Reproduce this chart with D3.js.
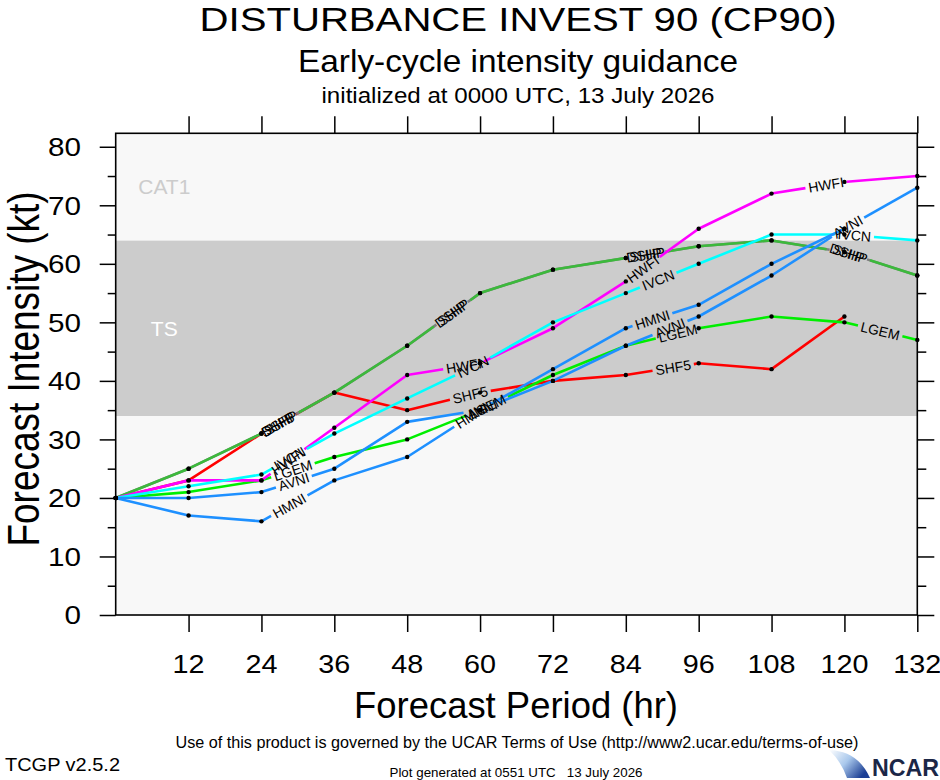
<!DOCTYPE html>
<html>
<head>
<meta charset="utf-8">
<script src="https://cdn.jsdelivr.net/npm/d3@7"></script>
<style>
  body { margin: 0; background: #fff; }
  svg { display: block; }
  text { font-family: "Liberation Sans", Arial, Helvetica, sans-serif; }
</style>
</head>
<body>
<svg id="chart" width="940" height="780"></svg>
<script>
//BEGIN: DATA
const hours = [0, 12, 24, 36, 48, 60, 72, 84, 96, 108, 120, 132]
const SHF5 = [20, 23, 31, 38, 35, 38, 40, 41, 43, 42, 51]
const SHIP = [20, 25, 31, 38, 46, 55, 59, 61, 63, 64, 62, 58]
const DSHP = [20, 25, 31, 38, 46, 55, 59, 61, 63, 64, 62, 58]
const LGEM = [20, 21, 23, 27, 30, 35, 41, 46, 49, 51, 50, 47]
const HWFI = [20, 23, 23, 32, 41, 43, 49, 57, 66, 72, 74, 75]
const IVCN = [20, 22, 24, 31, 37, 43, 50, 55, 60, 65, 65, 64]
const AVNI = [20, 20, 21, 25, 33, 35, 40, 46, 51, 58, 66, 73]
const HMNI = [20, 17, 16, 23, 27, 35, 42, 49, 53, 60, 66]

const modelNames = ["SHF5", "SHIP", "DSHP", "LGEM", "HWFI", "IVCN", "AVNI", "HMNI"]
const modelValues = [SHF5, SHIP, DSHP, LGEM, HWFI, IVCN, AVNI, HMNI]
const modelColors = ["#ff0000", "#7f7f7f", "#3cb93c", "#00ee00", "#ff00ff", "#00ffff", "#1e90ff", "#1e90ff"]

const xTicks = [12, 24, 36, 48, 60, 72, 84, 96, 108, 120, 132]
const yTicks = [0, 10, 20, 30, 40, 50, 60, 70, 80]
const yMinorTicks = [5, 15, 25, 35, 45, 55, 65, 75]

const bandNames = ["TS", "CAT1"]
const bandLow = [34, 64]
const bandHigh = [64, 82.3]
const bandFill = ["#cccccc", "#f8f8f8"]
const bandTextColor = ["#ffffff", "#cccccc"]
//END: DATA

const svg = d3.select("#chart")
const plotLeft = 115.7, plotRight = 917.3, plotTop = 133.3, plotBottom = 615

const x = d3.scaleLinear().domain([0, 132]).range([plotLeft, plotRight])
const y = d3.scaleLinear().domain([0, 82.3]).range([plotBottom, plotTop])

// stretch a text to the width it has in the picture
const fit = (sel, w) => sel.attr("textLength", w).attr("lengthAdjust", "spacingAndGlyphs")

svg.append("rect").attr("width", 940).attr("height", 780).attr("fill", "#fff")

//BEGIN: TITLES
fit(svg.append("text").attr("x", 518).attr("y", 31).attr("text-anchor", "middle")
  .attr("font-size", 34).text("DISTURBANCE INVEST 90 (CP90)"), 637)
fit(svg.append("text").attr("x", 518).attr("y", 72).attr("text-anchor", "middle")
  .attr("font-size", 32).text("Early-cycle intensity guidance"), 440)
fit(svg.append("text").attr("x", 518).attr("y", 103).attr("text-anchor", "middle")
  .attr("font-size", 22).text("initialized at 0000 UTC, 13 July 2026"), 393)
//END: TITLES

//BEGIN: PLOT BACKGROUND
svg.append("rect").attr("x", plotLeft).attr("y", plotTop)
  .attr("width", plotRight - plotLeft).attr("height", plotBottom - plotTop)
  .attr("fill", "#f8f8f8")

bandNames.forEach((name, i) => {
  svg.append("rect")
    .attr("x", x(0)).attr("width", x(132) - x(0))
    .attr("y", y(bandHigh[i])).attr("height", y(bandLow[i]) - y(bandHigh[i]))
    .attr("fill", bandFill[i])
  svg.append("text")
    .attr("x", x(8)).attr("y", y((bandLow[i] + bandHigh[i]) / 2))
    .attr("dy", "0.36em").attr("text-anchor", "middle")
    .attr("font-size", 21).attr("fill", bandTextColor[i]).text(name)
})
//END: PLOT BACKGROUND

//BEGIN: AXES
const styleAxis = g => {
  g.select(".domain").remove()
  g.selectAll(".tick line").attr("stroke", "#000").attr("stroke-width", 1.5)
}

svg.append("g").attr("transform", `translate(${plotLeft},0)`)
  .call(d3.axisLeft(y).tickValues(yTicks).tickSize(16).tickFormat(""))
  .call(styleAxis)
svg.append("g").attr("transform", `translate(${plotLeft},0)`)
  .call(d3.axisLeft(y).tickValues(yMinorTicks).tickSize(8).tickFormat(""))
  .call(styleAxis)
svg.append("g").attr("transform", `translate(${plotRight},0)`)
  .call(d3.axisRight(y).tickValues(yTicks).tickSize(17).tickFormat(""))
  .call(styleAxis)
svg.append("g").attr("transform", `translate(${plotRight},0)`)
  .call(d3.axisRight(y).tickValues(yMinorTicks).tickSize(9).tickFormat(""))
  .call(styleAxis)
svg.append("g").attr("transform", `translate(0,${plotTop})`)
  .call(d3.axisTop(x).tickValues(xTicks).tickSize(17).tickFormat(""))
  .call(styleAxis)
svg.append("g").attr("transform", `translate(0,${plotBottom})`)
  .call(d3.axisBottom(x).tickValues(xTicks).tickSize(17).tickFormat(""))
  .call(styleAxis)

// tick labels
svg.append("g").selectAll("text").data(yTicks).join("text")
  .attr("x", 81).attr("y", d => y(d)).attr("dy", "0.36em")
  .attr("text-anchor", "end").attr("font-size", 26)
  .text(d => d)
  .each(function (d) { fit(d3.select(this), String(d).length * 16.5) })

svg.append("g").selectAll("text").data(xTicks).join("text")
  .attr("x", d => x(d)).attr("y", 673)
  .attr("text-anchor", "middle").attr("font-size", 26)
  .text(d => d)
  .each(function (d) { fit(d3.select(this), String(d).length * 16) })

fit(svg.append("text").attr("x", 516).attr("y", 718).attr("text-anchor", "middle")
  .attr("font-size", 37).text("Forecast Period (hr)"), 324)
fit(svg.append("text").attr("transform", "translate(38.5,369) rotate(-90)")
  .attr("text-anchor", "middle").attr("font-size", 44).text("Forecast Intensity (kt)"), 355)
//END: AXES

//BEGIN: MODEL LINES
const firstLabel = 180
const labelSpacing = 205
const labelPad = 3

const drawModel = (name, vals, color) => {
  let pts = vals.map((v, i) => [x(hours[i]), y(v)])
  let cum = [0]
  for (let i = 1; i < pts.length; i++) {
    cum.push(cum[i - 1] + Math.hypot(pts[i][0] - pts[i - 1][0], pts[i][1] - pts[i - 1][1]))
  }
  let total = cum[cum.length - 1]

  const segAt = s => {
    let i = 0
    while (i < pts.length - 2 && cum[i + 1] < s) i++
    return i
  }
  const pointAt = s => {
    let i = segAt(s)
    let f = (s - cum[i]) / (cum[i + 1] - cum[i])
    return [pts[i][0] + f * (pts[i + 1][0] - pts[i][0]), pts[i][1] + f * (pts[i + 1][1] - pts[i][1])]
  }

  // measure label width
  let probe = svg.append("text").attr("font-size", 14).text(name)
  let w = probe.node().getComputedTextLength()
  probe.remove()

  let labels = []
  for (let s = firstLabel; s + w / 2 < total; s += labelSpacing) labels.push(s)

  // visible pieces of the line between label gaps
  let pieces = []
  let prev = 0
  labels.forEach(s => {
    pieces.push([prev, s - w / 2 - labelPad])
    prev = s + w / 2 + labelPad
  })
  pieces.push([prev, total])

  let line = d3.line()
  let g = svg.append("g")
  pieces.forEach(([u, v]) => {
    if (v <= u) return
    let p = [pointAt(u)]
    cum.forEach((c, i) => { if (c > u && c < v) p.push(pts[i]) })
    p.push(pointAt(v))
    g.append("path").attr("d", line(p)).attr("fill", "none")
      .attr("stroke", color).attr("stroke-width", 2.6).attr("stroke-linejoin", "round")
  })

  return { pts, labels, pointAt, segAt, w }
}

let drawn = modelNames.map((name, i) => drawModel(name, modelValues[i], modelColors[i]))

// markers
drawn.forEach(d => {
  svg.append("g").selectAll("circle").data(d.pts).join("circle")
    .attr("cx", p => p[0]).attr("cy", p => p[1]).attr("r", 2.2).attr("fill", "#000")
})

// line labels
drawn.forEach((d, k) => {
  d.labels.forEach(s => {
    let [cx, cy] = d.pointAt(s)
    let i = d.segAt(s)
    let ang = Math.atan2(d.pts[i + 1][1] - d.pts[i][1], d.pts[i + 1][0] - d.pts[i][0]) * 180 / Math.PI
    svg.append("text")
      .attr("transform", `translate(${cx},${cy}) rotate(${ang})`)
      .attr("text-anchor", "middle").attr("dy", "0.36em")
      .attr("font-size", 14).attr("fill", "#000")
      .text(modelNames[k])
  })
})
//END: MODEL LINES

// frame
svg.append("rect").attr("x", plotLeft).attr("y", plotTop)
  .attr("width", plotRight - plotLeft).attr("height", plotBottom - plotTop)
  .attr("fill", "none").attr("stroke", "#000").attr("stroke-width", 1.6)

//BEGIN: FOOTER
fit(svg.append("text").attr("x", 517).attr("y", 748).attr("text-anchor", "middle")
  .attr("font-size", 16).text("Use of this product is governed by the UCAR Terms of Use (http://www2.ucar.edu/terms-of-use)"), 683)
fit(svg.append("text").attr("x", 5).attr("y", 771)
  .attr("font-size", 19).text("TCGP v2.5.2"), 115)
fit(svg.append("text").attr("x", 516).attr("y", 777).attr("text-anchor", "middle")
  .attr("font-size", 13).text("Plot generated at 0551 UTC\u00a0\u00a0\u00a013 July 2026"), 253)

let grad = svg.append("defs").append("linearGradient").attr("id", "swoosh")
  .attr("x1", "0").attr("y1", "0").attr("x2", "1").attr("y2", "0.6")
grad.append("stop").attr("offset", "0").attr("stop-color", "#ffffff")
grad.append("stop").attr("offset", "0.5").attr("stop-color", "#a9c8ec")
grad.append("stop").attr("offset", "1").attr("stop-color", "#1c3f94")
svg.append("path")
  .attr("d", "M829,750 Q858,751 870,778 L847,778 Q841,761 829,750 Z")
  .attr("fill", "url(#swoosh)")
fit(svg.append("text").attr("x", 872).attr("y", 776)
  .attr("font-size", 24).attr("font-weight", "bold").attr("fill", "#1b2747").text("NCAR"), 67)
//END: FOOTER
</script>
</body>
</html>
